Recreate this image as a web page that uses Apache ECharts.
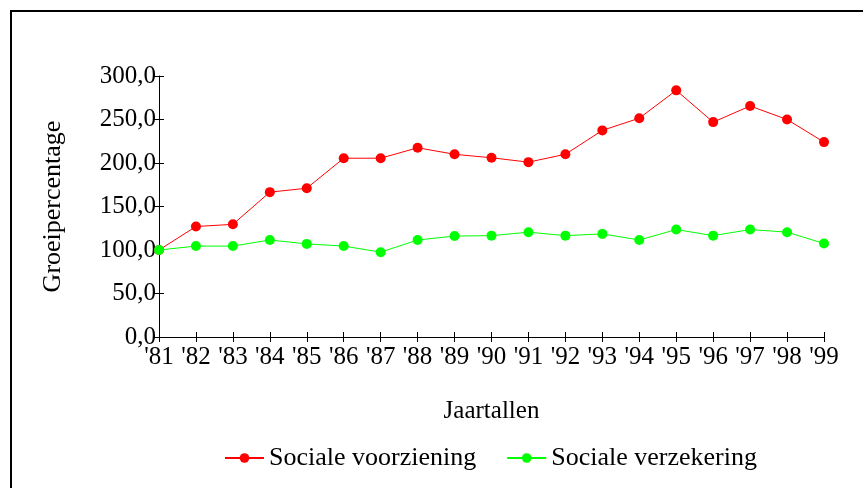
<!DOCTYPE html>
<html>
<head>
<meta charset="utf-8">
<script src="https://cdn.jsdelivr.net/npm/echarts@6/dist/echarts.min.js"></script>
<style>
    html, body { margin: 0; padding: 0; background: #fff; }
    #container { width: 863px; height: 488px; }
</style>
</head>
<body>
<div id="container"></div>
<script>
    var jaren = ["'81", "'82", "'83", "'84", "'85", "'86", "'87", "'88", "'89", "'90",
                 "'91", "'92", "'93", "'94", "'95", "'96", "'97", "'98", "'99"];
    var voorziening = [100, 127, 129.5, 166.5, 171, 205.5, 205.5, 217.5, 210, 206,
                       201, 210, 237.5, 251.5, 283.5, 247, 265.5, 250, 224];
    var verzekering = [100, 104.5, 104.5, 111.5, 107, 104.5, 97.5, 111.5, 116, 116.5,
                       120.5, 116.5, 118.5, 111.5, 123.5, 116.5, 123.5, 120.5, 107.5];

    var fontFam = '"Liberation Serif", "Times New Roman", serif';
    var myChart = echarts.init(document.getElementById('container'));

    var option = {
        animation: false,
        textStyle: { fontFamily: fontFam, color: '#000' },
        graphic: [{
            type: 'rect',
            shape: { x: 11, y: 11, width: 900, height: 600 },
            style: { fill: 'none', stroke: '#000', lineWidth: 2 }
        }],
        grid: { left: 159, right: 39, top: 76, bottom: 151 },
        legend: {
            bottom: 12,
            left: 219,
            itemWidth: 39,
            itemHeight: 12,
            itemGap: 30,
            textStyle: { fontFamily: fontFam, fontSize: 26, color: '#000' },
            data: ['Sociale voorziening', 'Sociale verzekering']
        },
        xAxis: [
            {
                type: 'category',
                data: jaren,
                boundaryGap: false,
                name: 'Jaartallen',
                nameLocation: 'middle',
                nameGap: 62,
                nameTextStyle: { fontFamily: fontFam, fontSize: 25, color: '#000' },
                axisLine: { lineStyle: { color: '#000', width: 1 } },
                axisTick: { alignWithLabel: true, length: 5, lineStyle: { color: '#000' } },
                axisLabel: { interval: 0, fontFamily: fontFam, fontSize: 25, color: '#000', margin: 8 }
            },
            {
                // tweede as alleen voor de ticks naar binnen
                type: 'category',
                data: jaren,
                boundaryGap: false,
                position: 'bottom',
                axisLine: { show: false },
                axisTick: { inside: true, length: 5, lineStyle: { color: '#000' } },
                axisLabel: { show: false }
            }
        ],
        yAxis: [
            {
                type: 'value',
                min: 0,
                max: 300,
                interval: 50,
                name: 'Groeipercentage',
                nameLocation: 'middle',
                nameGap: 93,
                nameTextStyle: { fontFamily: fontFam, fontSize: 26, color: '#000' },
                splitLine: { show: false },
                axisLine: { show: true, lineStyle: { color: '#000', width: 1 } },
                axisTick: { show: true, length: 5, lineStyle: { color: '#000' } },
                axisLabel: {
                    fontFamily: fontFam, fontSize: 25, color: '#000', margin: 3,
                    formatter: function (v) { return v.toFixed(1).replace('.', ','); }
                }
            },
            {
                type: 'value',
                min: 0,
                max: 300,
                interval: 50,
                position: 'left',
                splitLine: { show: false },
                axisLine: { show: false },
                axisTick: { show: true, inside: true, length: 5, lineStyle: { color: '#000' } },
                axisLabel: { show: false }
            }
        ],
        series: [
            {
                name: 'Sociale voorziening',
                type: 'line',
                data: voorziening,
                color: '#ff0000',
                symbol: 'circle',
                symbolSize: 10,
                lineStyle: { width: 1 }
            },
            {
                name: 'Sociale verzekering',
                type: 'line',
                data: verzekering,
                color: '#00ff00',
                symbol: 'circle',
                symbolSize: 10,
                lineStyle: { width: 1 }
            }
        ]
    };
    myChart.setOption(option);
</script>
</body>
</html>
